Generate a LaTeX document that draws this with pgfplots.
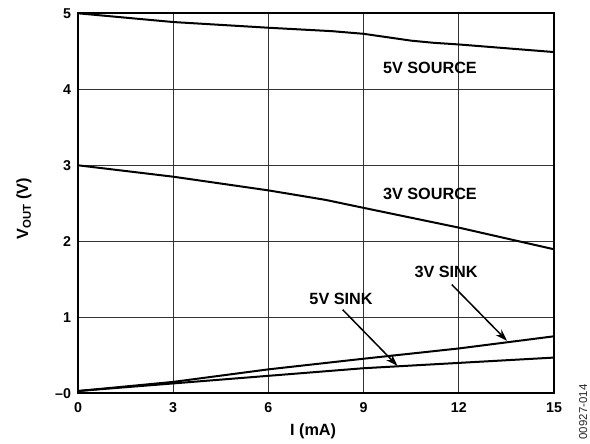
\documentclass[border=0pt]{standalone}
\usepackage{fontspec}
\setmainfont{Liberation Sans}
\usepackage{pgfplots}
\pgfplotsset{compat=1.18}
\usetikzlibrary{arrows.meta}

\begin{document}
\begin{tikzpicture}
\useasboundingbox (-78bp,-50.7bp) rectangle (512bp,393.3bp);
\begin{axis}[
  scale only axis,
  width=476bp, height=380bp,
  xmin=0, xmax=15, ymin=0, ymax=5,
  xtick={0,3,...,15}, ytick={0,1,...,5},
  yticklabels={–0,1,2,3,4,5},
  grid=major,
  major grid style={black!80, line width=0.9bp},
  axis line style={line width=2bp},
  major tick length=0pt,
  /pgf/number format/assume math mode=true,
  tick label style={font=\fontsize{14.3}{16}\selectfont\bfseries},
  xticklabel style={yshift=-5.5bp},
  yticklabel style={xshift=-3.5bp},
  clip=false,
]
% 5V SOURCE
\addplot[black, line width=2bp] coordinates {(0,5.00) (3,4.885) (6,4.81) (8,4.765) (9,4.73) (10.5,4.64) (11.2,4.612) (12,4.59) (15,4.49)};
% 3V SOURCE
\addplot[black, line width=2bp] coordinates {(0,3.00) (3,2.85) (6,2.67) (7.8,2.545) (9,2.44) (12,2.18) (15,1.895)};
% 3V SINK
\addplot[black, line width=2bp] coordinates {(0,0.03) (3,0.15) (6,0.315) (9,0.455) (12,0.59) (15,0.75)};
% 5V SINK
\addplot[black, line width=2bp] coordinates {(0,0.03) (3,0.13) (6,0.23) (9,0.33) (12,0.40) (15,0.47)};

\begin{scope}[every node/.style={font=\fontsize{16.3}{19}\selectfont\bfseries}]
\node at (axis cs:11.09,4.28) {5V SOURCE};
\node at (axis cs:11.09,2.62) {3V SOURCE};
\node at (axis cs:8.29,1.24) {5V SINK};
\node at (axis cs:11.6,1.6) {3V SINK};
\node[rotate=90] at (axis cs:-1.70,2.43) {V\textsubscript{OUT} (V)};
\node at (axis cs:7.41,-0.505) {I (mA)};
\end{scope}
\draw[line width=1.5bp, -{Stealth[length=12bp,width=8bp]}] (axis cs:8.34,1.10) -- (axis cs:10.07,0.36);
\draw[line width=1.5bp, -{Stealth[length=12bp,width=8bp]}] (axis cs:11.78,1.43) -- (axis cs:13.52,0.69);
\node[rotate=90, font=\fontsize{11.5}{13}\selectfont, black!85] at (axis cs:15.92,-0.246) {00927-014};
\end{axis}
\end{tikzpicture}
\end{document}
